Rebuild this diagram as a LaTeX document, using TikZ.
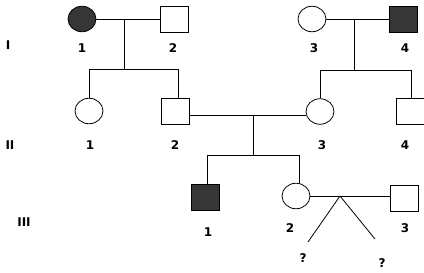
\documentclass[tikz,border=0pt]{standalone}
\usepackage{fontspec}
\newfontfamily\lblfont{DejaVu Sans}
\usetikzlibrary{shapes.geometric}
\definecolor{aff}{HTML}{363636}
\tikzset{
  fem/.style={draw=black, line width=0.8pt, ellipse, minimum width=28pt, minimum height=25.5pt, inner sep=0pt},
  mal/.style={draw=black, line width=0.8pt, rectangle, minimum width=28pt, minimum height=26pt, inner sep=0pt},
  affected/.style={fill=aff},
  lbl/.style={font=\lblfont\bfseries\fontsize{12}{14}\selectfont, inner sep=0pt},
  con/.style={line width=0.8pt}
}
\begin{document}
\begin{tikzpicture}[x=1pt,y=-1pt]
\useasboundingbox (0,0) rectangle (424,273);
\clip (0,0) rectangle (424,273);
% Generation I
\node[fem,affected] (I1) at (82,19) {};
\node[mal] (I2) at (174,19) {};
\node[fem] (I3) at (312,19) {};
\node[mal,affected] (I4) at (403,19) {};
% Generation II
\node[fem] (II1) at (89,111) {};
\node[mal] (II2) at (175.5,111.5) {};
\node[fem] (II3) at (320,111.5) {};
\node[mal,minimum width=30pt] (II4) at (411,111.5) {};
% Generation III
\node[mal,affected] (III1) at (205.5,197.5) {};
\node[fem] (III2) at (296,196) {};
\node[mal] (III3) at (404.5,198.5) {};
% coordinates
\coordinate (m1) at (124,19);
\coordinate (s1) at (124,69);
\coordinate (m2) at (354,19);
\coordinate (s2) at (354,70);
\coordinate (m3) at (253,115);
\coordinate (s3) at (253,155);
\coordinate (tw) at (340,196);
\coordinate (t1) at (308,242);
\coordinate (t2) at (375,239);
% Gen I marriages
\draw[con] (I1.east) -- (I2.west);
\draw[con] (m1) -- (s1);
\draw[con] (I3.east) -- (I4.west);
\draw[con] (m2) -- (s2);
% sibships II
\draw[con] (II1.north |- s1) -- ([xshift=2.5pt]II2.north |- s1);
\draw[con] (II1.north |- s1) -- (II1.north);
\draw[con] ([xshift=2.5pt]II2.north |- s1) -- ([xshift=2.5pt]II2.north);
\draw[con] (II3.north |- s2) -- (II4.north |- s2);
\draw[con] (II3.north |- s2) -- (II3.north);
\draw[con] (II4.north |- s2) -- (II4.north);
% Gen II marriage
\draw[con] ([yshift=-3.5pt]II2.east) -- ([yshift=-3.5pt]II3.west);
\draw[con] (m3) -- (s3);
\draw[con] ([xshift=1.5pt]III1.north |- s3) -- ([xshift=3pt]III2.north |- s3);
\draw[con] ([xshift=1.5pt]III1.north |- s3) -- ([xshift=1.5pt]III1.north);
\draw[con] ([xshift=3pt]III2.north |- s3) -- ([xshift=3pt]III2.north);
% Gen III marriage and twins
\draw[con] (III2.east) -- (III3.west |- III2.east);
\draw[con] (tw) -- (t1);
\draw[con] (tw) -- (t2);
% labels
\node[lbl] (gI) at (8,45) {I};
\node[lbl] (gII) at (10,145) {II};
\node[lbl] (gIII) at (24,222) {III};
\node[lbl] (lI1) at (82,48) {1};
\node[lbl] (lI2) at (173,48) {2};
\node[lbl] (lI3) at (314,48) {3};
\node[lbl] (lI4) at (405,48) {4};
\node[lbl] (lII1) at (90,145) {1};
\node[lbl] (lII2) at (175,145) {2};
\node[lbl] (lII3) at (322,145) {3};
\node[lbl] (lII4) at (405,145) {4};
\node[lbl] (lIII1) at (208,232) {1};
\node[lbl] (lIII2) at (290,228) {2};
\node[lbl] (lIII3) at (405,228) {3};
\node[lbl] (q1) at (303,258) {?};
\node[lbl] (q2) at (382,263) {?};
\end{tikzpicture}
\end{document}
